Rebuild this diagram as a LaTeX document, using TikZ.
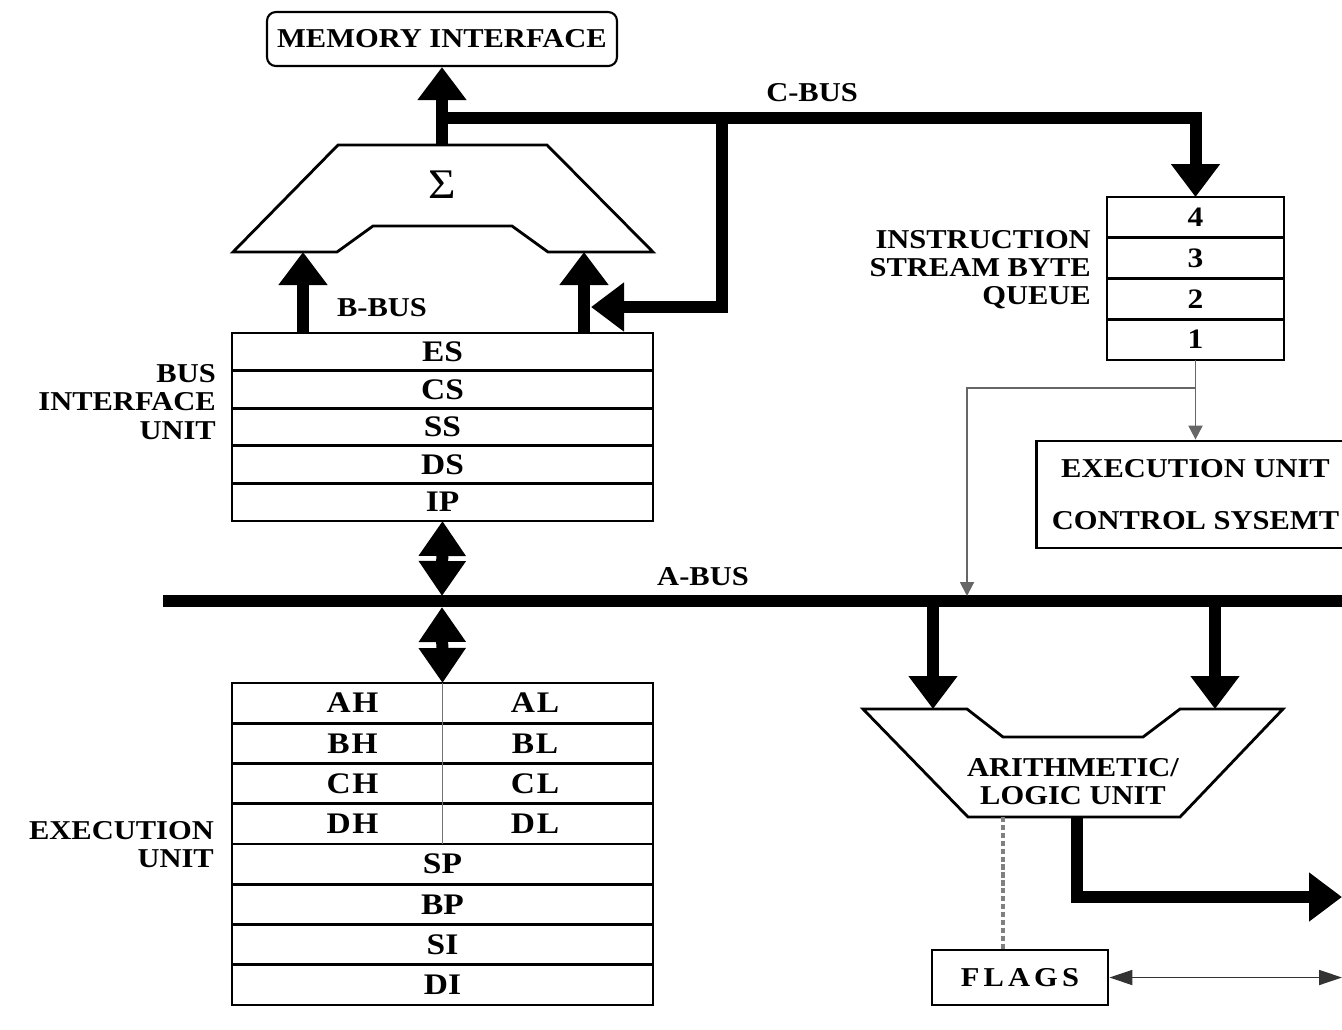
\documentclass[tikz,border=0pt]{standalone}
\usepackage{fontspec}
\setmainfont{Liberation Serif}[FakeStretch=1.12]
\newfontfamily\regfont{Liberation Serif}[FakeStretch=1.12,LetterSpace=6]
\newfontfamily\flagfont{Liberation Serif}[FakeStretch=1.12,LetterSpace=15]
\usetikzlibrary{arrows.meta,calc,positioning}

\tikzset{
  reg/.style={draw,line width=1.6pt,inner sep=0pt,outer sep=0pt,minimum width=8.42cm,
    minimum height=0.752cm,font=\bfseries\fontsize{17}{18}\selectfont},
  eureg/.style={reg,minimum height=0.805cm},
  qreg/.style={reg,minimum width=3.54cm,minimum height=0.815cm,font=\bfseries\fontsize{16}{17}\selectfont},
  half/.style={font=\regfont\bfseries\fontsize{17}{18}\selectfont},
  bus/.style={line width=0.24cm},
  busarrow/.style={bus,-{Triangle[length=0.66cm,width=0.94cm]}},
  duplex/.style={bus,{Triangle[length=0.7cm,width=0.9cm]}-{Triangle[length=0.7cm,width=0.9cm]}},
  feed/.style={black!60,line width=1.1pt,-{Triangle[length=0.28cm,width=0.28cm]}},
  unitlabel/.style={anchor=east,align=right},
  outline/.style={line width=1.6pt},
}

\begin{document}
\begin{tikzpicture}[x=0.02cm,y=-0.02cm,font=\bfseries\fontsize{15.5}{16}\selectfont]
  \useasboundingbox (0,0) rectangle (1342,1029);
  \clip (0,0) rectangle (1342,1029);

  % memory and adder
  \node[draw,line width=1.2pt,rounded corners=5pt,minimum width=7cm,minimum height=1.08cm] (mem) at (442,39) {MEMORY INTERFACE};
  \draw[outline] (338,145) -- (547,145) -- (653,252) -- (548,252) -- (512,226) -- (373,226) -- (337,252) -- (233,252) -- cycle;
  \node[font=\mdseries\fontsize{24}{26}\selectfont] (sig) at (442,185) {Σ};
  \coordinate (sumout) at (442,145);
  \coordinate (sumL) at (303,252);
  \coordinate (sumR) at (584,252);

  % bus interface unit
  \node[reg] (es) at (442.5,351.8) {ES};
  \node[reg,below=0pt of es] (cs) {CS};
  \node[reg,below=0pt of cs] (ss) {SS};
  \node[reg,below=0pt of ss] (ds) {DS};
  \node[reg,below=0pt of ds] (ip) {IP};
  \node[unitlabel] (biu) at (222,402) {BUS\\INTERFACE\\UNIT};

  % queue
  \node[qreg] (q4) at (1195.5,217.4) {4};
  \node[qreg,below=0pt of q4] (q3) {3};
  \node[qreg,below=0pt of q3] (q2) {2};
  \node[qreg,below=0pt of q2] (q1) {1};
  \node[unitlabel] (qlbl) at (1097,270) {INSTRUCTION\\STREAM BYTE\\QUEUE};
  \node[draw,outline,minimum width=6.36cm,minimum height=2.14cm,align=center] (ctrl) at (1195.5,494.5)
    {EXECUTION UNIT\\[14pt]CONTROL SYSEMT};

  % buses up top
  \coordinate (cbus) at (442,118);
  \coordinate (tapc) at (722,118);
  \coordinate (bjoin) at (591,307);
  \draw[busarrow] (sumout) -- (mem.south);
  \draw[busarrow] (cbus) -| (q4.north);
  \draw[busarrow] (tapc) |- (bjoin);
  \draw[busarrow] (sumL |- es.north) -- (sumL);
  \draw[busarrow] (sumR |- es.north) -- (sumR);
  \node (cbl) at (812,93) {C-BUS};
  \node (bbl) at (382,308) {B-BUS};

  % A-bus
  \coordinate (abusL) at (163,601);
  \coordinate (abusR) at (1342,601);
  \coordinate (abusup) at (442,596);
  \coordinate (abusdn) at (442,607);
  \coordinate (abusin) at (967,596);
  \draw[bus] (abusL) -- (abusR);
  \node (abl) at (703,577) {A-BUS};

  % execution unit registers
  \node[eureg] (rowa) at (442.5,703.1) {};
  \node[eureg,below=0pt of rowa] (rowb) {};
  \node[eureg,below=0pt of rowb] (rowc) {};
  \node[eureg,below=0pt of rowc] (rowd) {};
  \node[eureg,below=0pt of rowd] (sp) {SP};
  \node[eureg,below=0pt of sp] (bp) {BP};
  \node[eureg,below=0pt of bp] (si) {SI};
  \node[eureg,below=0pt of si] (di) {DI};
  \draw[black!55,line width=1pt] (rowa.north) -- (rowd.south);
  \foreach \r/\hi/\lo in {rowa/AH/AL,rowb/BH/BL,rowc/CH/CL,rowd/DH/DL}{
    \node[half] at ([xshift=-1.8cm]\r.center) {\hi};
    \node[half] at ([xshift=1.85cm]\r.center) {\lo};
  }
  \node[unitlabel] (eulbl) at (220,845) {EXECUTION\\UNIT};

  \draw[duplex] (ip.south) -- (abusup);
  \draw[duplex] (abusdn) -- (rowa.north);

  % queue feed
  \coordinate (tap) at ($(q1.south)+(0,28)$);
  \draw[feed] (q1.south) -- (ctrl.north);
  \draw[feed] (tap) -| (abusin);

  % ALU
  \draw[outline] (863,709) -- (967,709) -- (1003,737) -- (1143,737) -- (1180,709) -- (1283,709) -- (1180,817) -- (968,817) -- cycle;
  \node[align=center] (alu) at (1073,782) {ARITHMETIC/\\LOGIC UNIT};
  \coordinate (alua) at (933,709);
  \coordinate (alub) at (1215,709);
  \coordinate (aluout) at (1077,817);
  \coordinate (resR) at (1342,897);
  \coordinate (aluflag) at (1003,817);
  \draw[busarrow] (alua |- abusL) -- (alua);
  \draw[busarrow] (alub |- abusL) -- (alub);
  \draw[busarrow] (aluout) |- (resR);

  % flags
  \node[draw,outline,minimum width=3.52cm,minimum height=1.1cm,font=\flagfont\bfseries\fontsize{15.5}{16}\selectfont] (flags) at (1020,977.5) {FLAGS};
  \draw[black!50,line width=2.2pt,dash pattern=on 3pt off 1.5pt] (aluflag) -- (aluflag |- flags.north);
  \draw[black!80,line width=1pt,{Triangle[length=0.46cm,width=0.3cm]}-{Triangle[length=0.46cm,width=0.3cm]}] (flags.east) -- (flags.east -| resR);
\end{tikzpicture}
\end{document}
